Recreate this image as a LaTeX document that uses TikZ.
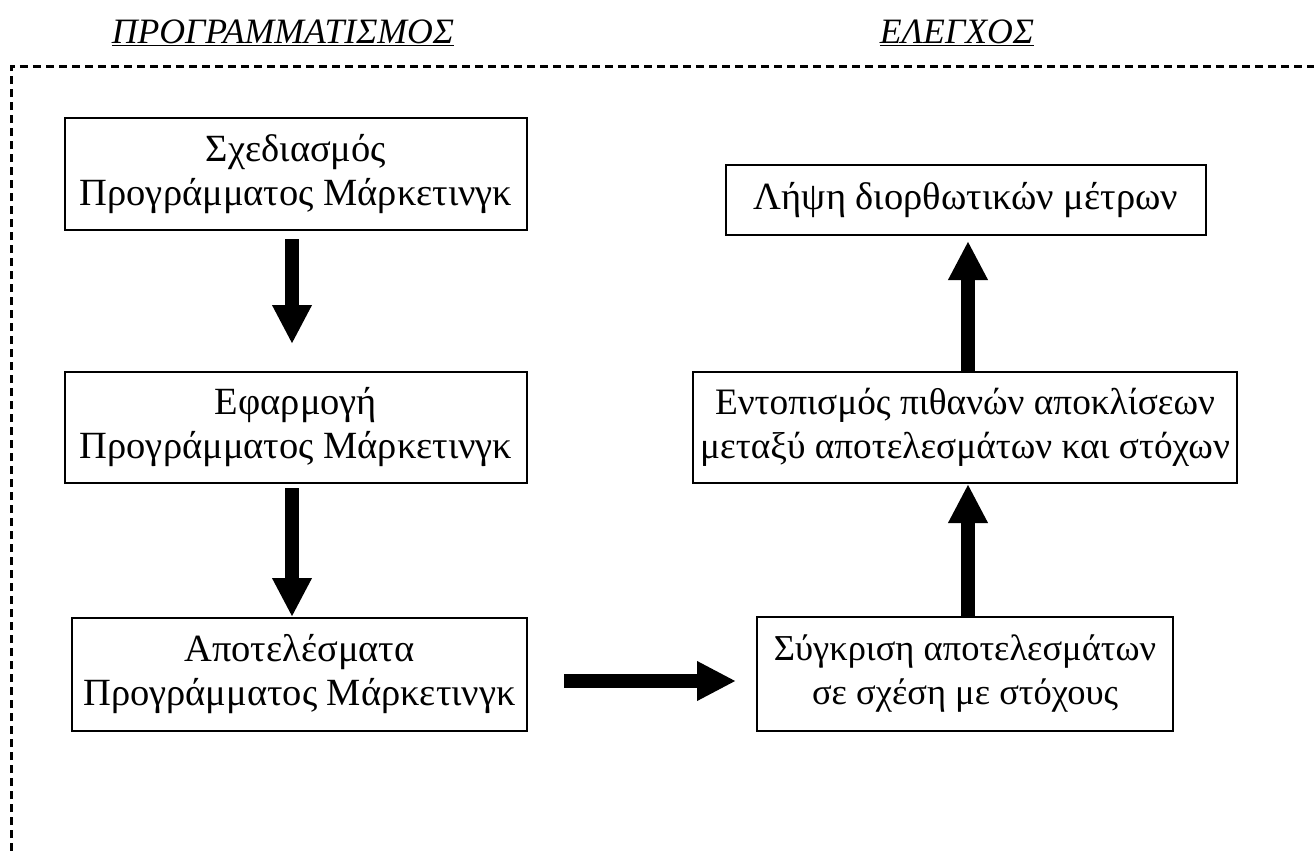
\documentclass[tikz,border=0pt]{standalone}
\usepackage{fontspec}
\setmainfont{Liberation Serif}
\usetikzlibrary{arrows.meta}
\begin{document}
\begin{tikzpicture}[x=1pt,y=-1pt,
  box/.style={draw,line width=2pt,align=center,inner sep=0pt,
    font=\fontsize{38.5}{44}\selectfont},
  title/.style={inner sep=0pt,font=\fontsize{35.7}{42}\selectfont\itshape},
  bigarrow/.style={line width=14pt,-{Triangle[width=37pt,length=39pt]}},
  frame/.style={line width=3pt,dash pattern=on 8pt off 5pt}]
\useasboundingbox (0,0) rectangle (1314,851);
% titles
\node[title] (tplan) at (283,33) {\underline{ΠΡΟΓΡΑΜΜΑΤΙΣΜΟΣ}};
\node[title] (tctrl) at (957,33) {\underline{ΕΛΕΓΧΟΣ}};
% open dashed frame
\coordinate (fa) at (11,851);
\coordinate (fb) at (11,67);
\coordinate (fc) at (1314,67);
\draw[frame] (fa) -- (fb) -- (fc);
% planning column
\node[box,minimum width=462pt,minimum height=112pt] (p1) at (296,174)
  {Σχεδιασμός\\Προγράμματος Μάρκετινγκ};
\node[box,minimum width=462pt,minimum height=111pt] (p2) at (296,427.5)
  {Εφαρμογή\\Προγράμματος Μάρκετινγκ};
\node[box,minimum width=455pt,minimum height=113pt] (p3) at (299.5,674.5)
  {Αποτελέσματα\\Προγράμματος Μάρκετινγκ};
% control column
\node[box,minimum width=480pt,minimum height=70pt] (c3) at (966,200)
  {Λήψη διορθωτικών μέτρων};
\node[box,minimum width=544pt,minimum height=111pt,
  font=\fontsize{37.3}{44}\selectfont] (c2) at (965,427.5)
  {Εντοπισμός πιθανών αποκλίσεων\\μεταξύ αποτελεσμάτων και στόχων};
\node[box,minimum width=416pt,minimum height=114pt,
  font=\fontsize{36.5}{44}\selectfont] (c1) at (965,674)
  {Σύγκριση αποτελεσμάτων\\σε σχέση με στόχους};
% arrows
\draw[bigarrow,shorten <=8pt,shorten >=27pt] (p1.south -| 292,0) -- (p2.north -| 292,0);
\draw[bigarrow,shorten <=4pt] (p2.south -| 292,0) -- (p3.north -| 292,0);
\draw[bigarrow,shorten <=36pt,shorten >=20pt] (p3.east |- 0,681) -- (c1.west |- 0,681);
\draw[bigarrow] (c1.north -| 968,0) -- (c2.south -| 968,0);
\draw[bigarrow,shorten >=5pt] (c2.north -| 968,0) -- (c3.south -| 968,0);
\end{tikzpicture}
\end{document}
